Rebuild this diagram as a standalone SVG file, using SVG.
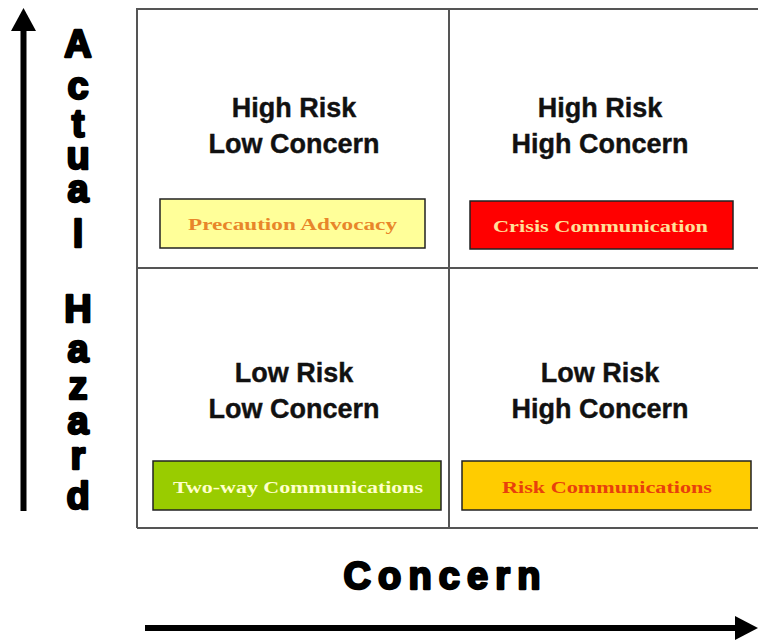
<svg xmlns="http://www.w3.org/2000/svg" width="758" height="642" viewBox="0 0 758 642">
<style>
.grid{fill:none;stroke:#555;stroke-width:2}
.title{font-family:"Liberation Sans",Arial,sans-serif;font-weight:bold;font-size:27px;fill:#111;stroke:#111;stroke-width:0.4;text-anchor:middle}
.axis{font-family:"Liberation Sans",Arial,sans-serif;font-weight:bold;fill:#000;stroke:#000;stroke-width:2.4;stroke-linejoin:round;text-anchor:middle}
.box{stroke:#222;stroke-width:1.5}
.lbl{font-family:"Liberation Serif","Times New Roman",serif;font-weight:bold;font-size:17px;text-anchor:middle}
.arr{stroke:#000;stroke-width:6;fill:none}
</style>
<rect width="758" height="642" fill="#fff"/>
<g id="connectors">
<line class="arr" x1="23.5" y1="28" x2="23.5" y2="511"/>
<polygon points="23.5,8 11,31 36,31" fill="#000"/>
<line class="arr" x1="145" y1="628" x2="740" y2="628"/>
<polygon points="758,628 735,616 735,640" fill="#000"/>
</g>
<g id="grid">
<path class="grid" d="M137,528 L137,9 L760,9 M137,528 L760,528 M449,9 L449,528 M137,268 L760,268"/>
</g>
<g id="y-axis-label" class="axis" font-size="38">
<text x="78" y="57">A</text>
<text x="78" y="99">c</text>
<text x="78" y="137">t</text>
<text x="78" y="169">u</text>
<text x="78" y="202">a</text>
<text x="78" y="247">l</text>
<text x="78" y="322">H</text>
<text x="78" y="362">a</text>
<text x="78" y="399">z</text>
<text x="78" y="434">a</text>
<text x="78" y="469">r</text>
<text x="78" y="509">d</text>
</g>
<g id="x-axis-label">
<text class="axis" x="442" y="589" font-size="38" textLength="197" lengthAdjust="spacing">Concern</text>
</g>
<g id="q-high-low">
<text class="title" x="294" y="117">High Risk</text>
<text class="title" x="294" y="153">Low Concern</text>
<rect class="box" x="160" y="199" width="265" height="49" fill="#FFFF99"/>
<text class="lbl" x="292.5" y="230" fill="#E8862A" textLength="209" lengthAdjust="spacingAndGlyphs">Precaution Advocacy</text>
</g>
<g id="q-high-high">
<text class="title" x="600" y="117">High Risk</text>
<text class="title" x="600" y="153">High Concern</text>
<rect class="box" x="470" y="201" width="263" height="48" fill="#FF0000"/>
<text class="lbl" x="600.5" y="232" fill="#FFE09A" textLength="215" lengthAdjust="spacingAndGlyphs">Crisis Communication</text>
</g>
<g id="q-low-low">
<text class="title" x="294" y="382">Low Risk</text>
<text class="title" x="294" y="418">Low Concern</text>
<rect class="box" x="153" y="461" width="288" height="49" fill="#99CC00"/>
<text class="lbl" x="298" y="493" fill="#FFFFCC" textLength="250" lengthAdjust="spacingAndGlyphs">Two-way Communications</text>
</g>
<g id="q-low-high">
<text class="title" x="600" y="382">Low Risk</text>
<text class="title" x="600" y="418">High Concern</text>
<rect class="box" x="462" y="461" width="289" height="49" fill="#FFCC00"/>
<text class="lbl" x="607" y="493" fill="#E8400C" textLength="210" lengthAdjust="spacingAndGlyphs">Risk Communications</text>
</g>
</svg>
